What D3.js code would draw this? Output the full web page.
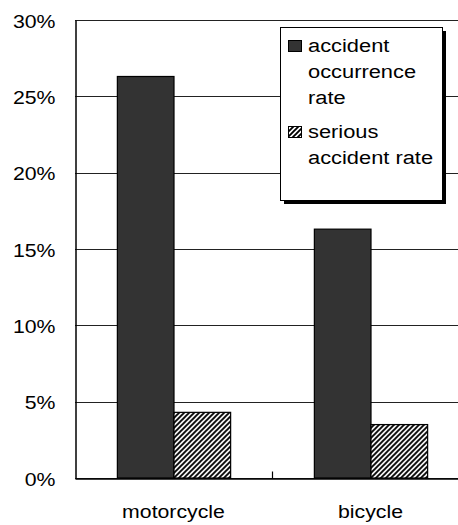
<!DOCTYPE html>
<html>
<head>
<meta charset="utf-8">
<script src="https://cdn.jsdelivr.net/npm/d3@7"></script>
<style>
  html, body { margin: 0; padding: 0; background: #fff; }
  svg { display: block; }
  text { font-family: "Liberation Sans", Arial, sans-serif; fill: #000; }
</style>
</head>
<body>
<svg id="chart" width="458" height="525"></svg>
<script>
// Accident rates by vehicle type (percent)
const categories = ["motorcycle", "bicycle"];
const seriesNames = ["accident occurrence rate", "serious accident rate"];
const occurrenceRate = [26.3, 16.3];
const seriousRate = [4.3, 3.5];
const yTicks = [0, 5, 10, 15, 20, 25, 30];
const yTickLabels = ["0%", "5%", "10%", "15%", "20%", "25%", "30%"];
const legendLines = [["accident", "occurrence", "rate"], ["serious", "accident rate"]];

const rows = categories.map((c, i) => ({ category: c, values: [occurrenceRate[i], seriousRate[i]] }));

const svg = d3.select("#chart");
const W = 458, H = 525;
const plot = { left: 75, top: 20, right: 469, bottom: 478 };
const SX = 1.15; // horizontal stretch of the lettering

// hatch for the second series
const defs = svg.append("defs");
const pat = defs.append("pattern")
  .attr("id", "hatch")
  .attr("patternUnits", "userSpaceOnUse")
  .attr("width", 5).attr("height", 5);
pat.append("rect").attr("width", 5).attr("height", 5).attr("fill", "#fff");
pat.append("path")
  .attr("d", "M-1,1 l2,-2 M0,5 l5,-5 M4,6 l2,-2")
  .attr("stroke", "#000").attr("stroke-width", 1.9);

const fills = ["#333333", "url(#hatch)"];

const x0 = d3.scaleBand().domain(categories).range([plot.left, plot.right]).padding(0);
const groupFrac = 0.575;
const x1 = d3.scaleBand().domain(d3.range(seriesNames.length))
  .range([0, x0.bandwidth() * groupFrac]).padding(0);
const groupOffset = x0.bandwidth() * (1 - groupFrac) / 2;

const y = d3.scaleLinear().domain([0, 30]).range([plot.bottom, plot.top]);

// gridlines
svg.append("g")
  .selectAll("line")
  .data(yTicks)
  .join("line")
  .attr("x1", plot.left).attr("x2", plot.right)
  .attr("y1", d => Math.round(y(d)) + 0.5).attr("y2", d => Math.round(y(d)) + 0.5)
  .attr("stroke", "#222").attr("stroke-width", 1);

// bars
const groups = svg.append("g")
  .selectAll("g")
  .data(rows)
  .join("g")
  .attr("transform", d => `translate(${x0(d.category) + groupOffset},0)`);

groups.selectAll("rect")
  .data(d => d.values.map((v, i) => ({ v, i })))
  .join("rect")
  .attr("x", d => x1(d.i) + 0.5)
  .attr("y", d => y(d.v))
  .attr("width", x1.bandwidth())
  .attr("height", d => y(0) - y(d.v))
  .attr("fill", d => fills[d.i])
  .attr("stroke", "#000")
  .attr("stroke-width", 1.2);

// y axis
const yAxis = d3.axisLeft(y)
  .tickValues(yTicks)
  .tickFormat((d, i) => yTickLabels[i])
  .tickSize(0)
  .tickPadding(0);
const yg = svg.append("g").attr("transform", `translate(${plot.left + 0.5},0)`).call(yAxis);
yg.select(".domain").attr("stroke", "#000").attr("stroke-width", 1.5);
yg.selectAll(".tick text")
  .attr("x", null).attr("dy", null)
  .attr("text-anchor", "end")
  .attr("font-size", 18.5)
  .attr("transform", `translate(-20,7) scale(${SX},1)`);

// x axis
const xAxis = d3.axisBottom(x0).tickSize(0).tickPadding(0);
const xg = svg.append("g").attr("transform", `translate(0,${plot.bottom + 0.5})`).call(xAxis);
xg.select(".domain").attr("stroke", "#000").attr("stroke-width", 1.5);
xg.selectAll(".tick text")
  .attr("y", null).attr("dy", null)
  .attr("text-anchor", "middle")
  .attr("font-size", 18.5)
  .attr("transform", `translate(0,39) scale(${SX},1)`);

// category divider ticks
xg.append("g")
  .selectAll("line")
  .data(categories.slice(1))
  .join("line")
  .attr("x1", d => Math.round(x0(d)) + 0.5).attr("x2", d => Math.round(x0(d)) + 0.5)
  .attr("y1", 0).attr("y2", -7)
  .attr("stroke", "#000").attr("stroke-width", 1.2);

// legend
const leg = { x: 280, y: 27, w: 162, h: 173 };
const lg = svg.append("g");
lg.append("rect")
  .attr("x", leg.x + 4).attr("y", leg.y + 4)
  .attr("width", leg.w).attr("height", leg.h)
  .attr("fill", "#000");
lg.append("rect")
  .attr("x", leg.x + 0.5).attr("y", leg.y + 0.5)
  .attr("width", leg.w).attr("height", leg.h)
  .attr("fill", "#fff").attr("stroke", "#000").attr("stroke-width", 1);

const lineH = 26;
const entryTop = [52, 138];
seriesNames.forEach((name, i) => {
  lg.append("rect")
    .attr("x", leg.x + 8.5).attr("y", entryTop[i] - 11.5)
    .attr("width", 13).attr("height", 11)
    .attr("fill", fills[i]).attr("stroke", "#000").attr("stroke-width", 1);
  const t = lg.append("text")
    .attr("font-size", 19)
    .attr("transform", `translate(${leg.x + 28},${entryTop[i]}) scale(${SX},1)`);
  legendLines[i].forEach((ln, j) => {
    t.append("tspan").attr("x", 0).attr("y", j * lineH).text(ln);
  });
});
</script>
</body>
</html>
